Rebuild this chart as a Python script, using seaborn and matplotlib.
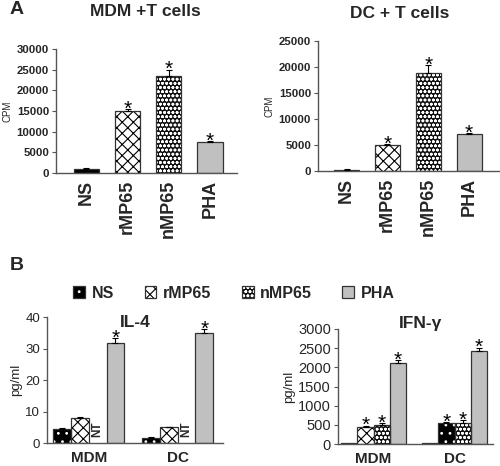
import numpy as np
import pandas as pd
import matplotlib
matplotlib.use("Agg")
import matplotlib.pyplot as plt
import seaborn as sns
from matplotlib.patches import Rectangle, Patch

# ---------------- data ----------------
stim = ["NS", "rMP65", "nMP65", "PHA"]

mdm_cpm = [1000, 15000, 23500, 7400]
mdm_cpm_err = [150, 500, 1500, 250]
mdm_cpm_star = [False, True, True, True]

dc_cpm = [200, 5000, 18900, 7100]
dc_cpm_err = [100, 150, 1400, 250]
dc_cpm_star = [False, True, True, True]

cells = ["MDM", "DC"]
il4_NS = [4.5, 1.8]
il4_rMP65 = [8.0, 5.1]
il4_nMP65 = [np.nan, np.nan]   # NT (not tested)
il4_PHA = [31.8, 35.0]
il4_err_NS = [0.3, 0.2]
il4_err_rMP65 = [0.4, 0.15]
il4_err_nMP65 = [0, 0]
il4_err_PHA = [1.6, 1.2]
il4_star = {"NS": [False, False], "rMP65": [False, False],
            "nMP65": [False, False], "PHA": [True, True]}

ifn_NS = [20, 30]
ifn_rMP65 = [452, 556]
ifn_nMP65 = [504, 558]
ifn_PHA = [2106, 2427]
ifn_err_NS = [0, 0]
ifn_err_rMP65 = [30, 20]
ifn_err_nMP65 = [50, 60]
ifn_err_PHA = [80, 90]
ifn_star = {"NS": [False, False], "rMP65": [True, True],
            "nMP65": [True, True], "PHA": [True, True]}

# ---------------- style ----------------
sns.set_theme(style="white")
plt.rcParams['font.family'] = ['Liberation Sans', 'DejaVu Sans']
plt.rcParams['hatch.linewidth'] = 0.8

EDGE = "#333333"
STYLE = {
    "NS": dict(face="black", hatch="..", hcol="white"),
    "rMP65": dict(face="white", hatch="xxx", hcol="black"),
    "nMP65": dict(face="#111111", hatch="oooo", hcol="white"),
    "PHA": dict(face="#c0c0c0", hatch=None, hcol=None),
}


def style_bar(ax, bar, key):
    s = STYLE[key]
    bar.set_facecolor(s["face"])
    if s["hatch"]:
        bar.set_edgecolor(s["hcol"])
        bar.set_hatch(s["hatch"])
        bar.set_linewidth(0)
        ax.add_patch(Rectangle((bar.get_x(), bar.get_y()), bar.get_width(),
                               bar.get_height(), fill=False, edgecolor=EDGE,
                               linewidth=0.9, zorder=bar.get_zorder() + 0.1))
    else:
        bar.set_edgecolor(EDGE)
        bar.set_linewidth(0.9)


def err_star(ax, x, h, e, star, fs=15):
    if e > 0:
        ax.errorbar([x], [h], yerr=[[0], [e]], fmt="none", ecolor="black",
                    elinewidth=0.8, capsize=2.2, capthick=0.8, zorder=5)
    if star:
        ax.annotate("*", (x, h + e), xytext=(0, -4), textcoords="offset points",
                    ha="center", va="baseline", fontsize=fs, color="black")


def style_axes(ax):
    sns.despine(ax=ax)
    for sp in ["left", "bottom"]:
        ax.spines[sp].set_color("#555555")
        ax.spines[sp].set_linewidth(1.0)
    ax.tick_params(axis="y", left=True, length=3, width=0.8, color="#555555", pad=2)
    ax.tick_params(axis="x", bottom=False, length=0)


fig = plt.figure(figsize=(5.0, 4.66), dpi=100)

# ---------------- panel A ----------------
def panel_a(rect, vals, errs, stars, ymax, step, xlim, title, title_xy):
    ax = fig.add_axes(rect)
    df = pd.DataFrame({"stim": stim, "val": vals})
    sns.barplot(data=df, x="stim", y="val", hue="stim", order=stim,
                hue_order=stim, legend=False, errorbar=None, width=0.62,
                ax=ax, saturation=1)
    for key, cont in zip(stim, ax.containers):
        for bar in cont:
            style_bar(ax, bar, key)
    for i, key in enumerate(stim):
        bar = ax.containers[i][0]
        err_star(ax, bar.get_x() + bar.get_width() / 2, vals[i], errs[i], stars[i])
    ax.set_ylim(0, ymax)
    ax.set_yticks(np.arange(0, ymax + 1, step))
    ax.set_xlim(*xlim)
    style_axes(ax)
    ax.set_xlabel("")
    ax.set_ylabel("CPM", fontsize=7, labelpad=3)
    for lab in ax.get_yticklabels():
        lab.set_fontsize(8.2)
        lab.set_fontweight("bold")
    ax.set_xticks(range(4))
    ax.set_xticklabels(stim, rotation=90, fontsize=13, fontweight="bold")
    ax.tick_params(axis="x", pad=5)
    fig.text(title_xy[0], title_xy[1], title, ha="center", va="center",
             fontsize=12.5, fontweight="bold")
    return ax


panel_a([0.112, 0.629, 0.362, 0.266], mdm_cpm, mdm_cpm_err, mdm_cpm_star,
        30000, 5000, (-0.74, 3.66), "MDM +T cells", (0.29, 1 - 12 / 466))
panel_a([0.636, 0.633, 0.362, 0.279], dc_cpm, dc_cpm_err, dc_cpm_star,
        25000, 5000, (-0.7, 3.73), "DC + T cells", (0.80, 1 - 13 / 466))

fig.text(0.02, 1 - 10 / 466, "A", ha="left", va="center", fontsize=14, fontweight="bold")
fig.text(0.02, 1 - 265 / 466, "B", ha="left", va="center", fontsize=14, fontweight="bold")

# ---------------- panel B ----------------
def panel_b(rect, series, errs, stars, ymax, step, xlim, title, title_xy,
            tickfs, override=None, nt=False):
    ax = fig.add_axes(rect)
    rows = []
    for key in stim:
        for j, c in enumerate(cells):
            rows.append({"cell": c, "stim": key, "val": series[key][j]})
    df = pd.DataFrame(rows)
    sns.barplot(data=df, x="cell", y="val", hue="stim", order=cells,
                hue_order=stim, errorbar=None, width=0.8, ax=ax,
                saturation=1, legend=False)
    conts = {key: list(cont) for key, cont in zip(stim, ax.containers)}
    ref = conts["rMP65"]
    for key in stim:
        for j in range(len(cells)):
            h = series[key][j]
            if np.isnan(h):
                if nt:
                    rb = ref[j]
                    ax.text(rb.get_x() + 1.5 * rb.get_width(), 4.3, "NT",
                            rotation=90, ha="center", va="center",
                            fontsize=8.5, fontweight="bold")
                continue
            bar = conts[key][j]
            sk = key
            if override and (key, j) in override:
                sk = override[(key, j)]
            style_bar(ax, bar, sk)
            err_star(ax, bar.get_x() + bar.get_width() / 2, h, errs[key][j],
                     stars[key][j])
    for key in stim:
        for j, bar in enumerate(conts.get(key, [])):
            if not np.isfinite(bar.get_height()):
                bar.set_visible(False)
    ax.set_ylim(0, ymax)
    ax.set_yticks(np.arange(0, ymax + 1, step))
    ax.set_xlim(*xlim)
    style_axes(ax)
    ax.set_xlabel("")
    ax.set_ylabel("pg/ml", fontsize=9.5, labelpad=2)
    for lab in ax.get_yticklabels():
        lab.set_fontsize(tickfs)
    ax.set_xticks([0, 1])
    ax.set_xticklabels(cells, fontsize=11, fontweight="bold")
    ax.tick_params(axis="x", pad=6)
    ax.text(title_xy[0], title_xy[1], title, transform=ax.transAxes,
            ha="center", va="center", fontsize=12.5, fontweight="bold")
    return ax


panel_b([0.094, 0.049, 0.352, 0.270],
        {"NS": il4_NS, "rMP65": il4_rMP65, "nMP65": il4_nMP65, "PHA": il4_PHA},
        {"NS": il4_err_NS, "rMP65": il4_err_rMP65, "nMP65": il4_err_nMP65,
         "PHA": il4_err_PHA},
        il4_star, 40, 10, (-0.47, 1.51), "IL-4", (0.5, 0.96), 9.5, nt=True)

panel_b([0.676, 0.047, 0.31, 0.247],
        {"NS": ifn_NS, "rMP65": ifn_rMP65, "nMP65": ifn_nMP65, "PHA": ifn_PHA},
        {"NS": ifn_err_NS, "rMP65": ifn_err_rMP65, "nMP65": ifn_err_nMP65,
         "PHA": ifn_err_PHA},
        ifn_star, 3000, 500, (-0.44, 1.475), "IFN-γ", (0.53, 1.05), 10.5,
        override={("rMP65", 1): "NS"})

# legend
handles = []
for key in stim:
    s = STYLE[key]
    if s["hatch"]:
        handles.append((Patch(facecolor=s["face"], edgecolor=s["hcol"],
                              hatch=s["hatch"], linewidth=0),
                        Patch(facecolor="none", edgecolor=EDGE, linewidth=0.9)))
    else:
        handles.append(Patch(facecolor=s["face"], edgecolor=EDGE, linewidth=0.9))
fig.legend(handles, stim, loc="center", bbox_to_anchor=(0.468, 1 - 293 / 466),
           ncol=4, frameon=False, prop={"size": 11.5, "weight": "bold"},
           handlelength=0.75, handleheight=0.75, handletextpad=0.4,
           columnspacing=1.9)

fig.savefig("out.png", dpi=100)
